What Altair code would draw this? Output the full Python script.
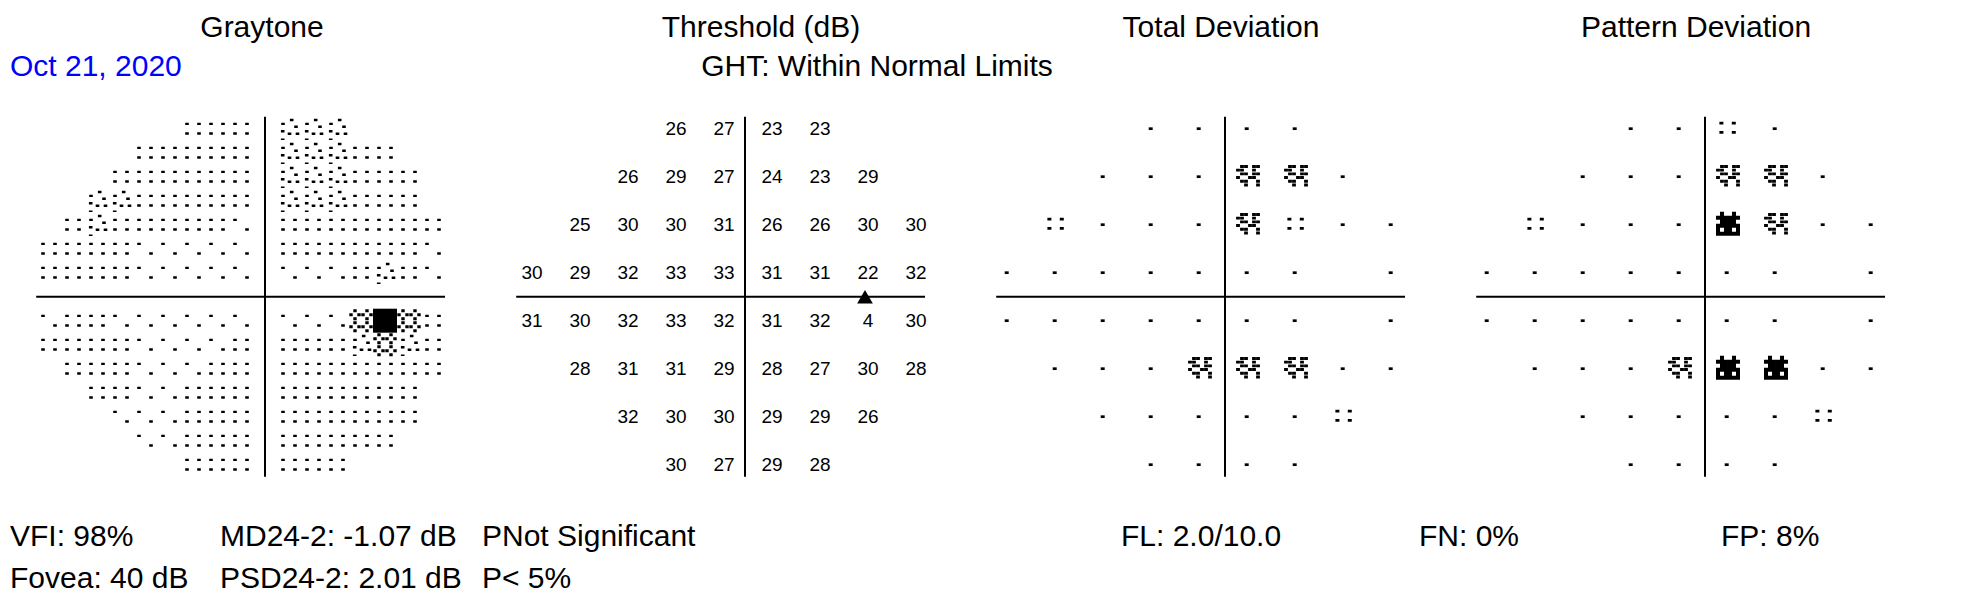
import altair as alt
import pandas as pd

# ---------------- data ----------------
ROW_Y = [21, 15, 9, 3, -3, -9, -15, -21]
ROW_X = {
    21: [-9, -3, 3, 9],
    15: [-15, -9, -3, 3, 9, 15],
    9: [-21, -15, -9, -3, 3, 9, 15, 21],
    3: [-27, -21, -15, -9, -3, 3, 9, 15, 21],
    -3: [-27, -21, -15, -9, -3, 3, 9, 15, 21],
    -9: [-21, -15, -9, -3, 3, 9, 15, 21],
    -15: [-15, -9, -3, 3, 9, 15],
    -21: [-9, -3, 3, 9],
}
THRESHOLD = {
    21: [26, 27, 23, 23],
    15: [26, 29, 27, 24, 23, 29],
    9: [25, 30, 30, 31, 26, 26, 30, 30],
    3: [30, 29, 32, 33, 33, 31, 31, 22, 32],
    -3: [31, 30, 32, 33, 32, 31, 32, 4, 30],
    -9: [28, 31, 31, 29, 28, 27, 30, 28],
    -15: [32, 30, 30, 29, 29, 26],
    -21: [30, 27, 29, 28],
}
# probability symbols: "." normal, ":" p<5%, "C" p<2%, "D" p<1%, "-" none
TOTAL_DEV = {21: "....", 15: "...CC.", 9: ":...C:..", 3: ".......-.",
             -3: ".......-.", -9: "...CCC..", -15: ".....:", -21: "...."}
PATTERN_DEV = {21: "..:.", 15: "...CC.", 9: ":...DC..", 3: ".......-.",
               -3: ".......-.", -9: "...CDD..", -15: ".....:", -21: "...."}
# graytone (3-degree blocks), a lightest ... e black
GRAY_Y = [21, 18, 15, 12, 9, 6, 3, -3, -6, -9, -12, -15, -18, -21]
GRAY_LEFT = {21: "bbb", 18: "bbbbb", 15: "bbbbbb", 12: "ccbbbbb", 9: "bcbbbbba",
             6: "bbbbaaaaa", 3: "bbbbaaaaa", -3: "abbaaaaaa", -6: "bbbbaaaab",
             -9: "bbbaaabb", -12: "bbaabbb", -15: "aaabbb", -18: "aabbb", -21: "bbb"}
GRAY_RIGHT = {21: "ccc", 18: "cccbb", 15: "cccbbb", 12: "cccbbb", 9: "bbbbbbb",
              6: "bbbbbba", 3: "aaabcba", -3: "aaadedb", -6: "bbbcdcb",
              -9: "bbbbbbb", -12: "bbbbbb", -15: "bbbbbb", -18: "bbbbb", -21: "bbb"}
BLIND_SPOT = [(15, 0)]
TITLES = ["Graytone", "Threshold (dB)", "Total Deviation", "Pattern Deviation"]

# ---------------- glyph shapes (unit = 12 px) ----------------
U = 12.0


def rects(lst):
    out = []
    for cx, cy, w, h in lst:
        out.append("M%.3f,%.3fh%.3fv%.3fh%.3fZ" % ((cx - w / 2) / U, (cy - h / 2) / U,
                                                  w / U, h / U, -w / U))
    return "".join(out)


def mask(rows, cw, ch, w, h, ox=0.0, oy=0.0):
    n_r, n_c = len(rows), len(rows[0])
    lst = []
    for r, row in enumerate(rows):
        for c, ch_ in enumerate(row):
            if ch_ == "X":
                cx = ox + (c - (n_c - 1) / 2) * cw
                cy = oy + (r - (n_r - 1) / 2) * ch
                lst.append((cx, cy, w, h))
    return rects(lst)


DW, DH = 3.6, 2.4
SHAPES = {
    "a": rects([(-6, -4.85, DW, DH), (6, 4.85, DW, DH)]),
    "b": rects([(-6, -4.85, DW, DH), (6, -4.85, DW, DH), (-6, 4.85, DW, DH), (6, 4.85, DW, DH)]),
    "c": rects([(2.7, -8.7, DW, DH), (7, -2, DW, DH), (-6.3, 2.5, DW, DH),
                (0.5, 5, DW, DH), (8.5, 5, DW, DH), (-6.3, 10.5, DW, 1.6), (-6, -4.85, DW, DH)]),
    "d": mask([".X..X.", "X.XX.X", ".X..X.", ".X..X.", "X.XX.X", ".X..X."], 4, 4, 3.4, 3.0),
    "e": rects([(0, 0, 24, 24)]),
    ".": rects([(-2.3, 0, 4, 2.7)]),
    ":": rects([(-7.6, -5.6, 4, 2.7), (4.8, -5.6, 4, 2.7), (-7.6, 3.7, 4, 2.7), (4.8, 3.7, 4, 2.7)]),
    "C": mask([".XX.XX", "XX..X.", ".XX.XX", "X..XX.", ".XX..X", "..X..X"], 4, 3.7, 3.8, 2.9, -1, -1),
    "D": mask([".X..X.", "XXXXXX", ".XXXX.", "XXXXXX", "X.XX.X", "XXXXXX"], 4, 4, 4, 4, -1, -1),
}
CODES = list(SHAPES.keys())

# ---------------- tables ----------------
gray = []
for y in GRAY_Y:
    left, right = GRAY_LEFT[y], GRAY_RIGHT[y]
    for i, c in enumerate(left):
        gray.append({"x": -3 * (len(left) - i), "y": y, "code": c, "panel": 0})
    for i, c in enumerate(right):
        gray.append({"x": 3 * (i + 1), "y": y, "code": c, "panel": 0})
for panel, table in ((2, TOTAL_DEV), (3, PATTERN_DEV)):
    for y in ROW_Y:
        for x, c in zip(ROW_X[y], table[y]):
            if c != "-":
                gray.append({"x": x, "y": y, "code": c, "panel": panel})
sym_df = pd.DataFrame(gray)

thr_df = pd.DataFrame([{"x": x, "y": y, "v": v, "panel": 1}
                       for y in ROW_Y for x, v in zip(ROW_X[y], THRESHOLD[y])])
bs_df = pd.DataFrame([{"x": x, "y": y, "panel": 1} for x, y in BLIND_SPOT])

H_EXT = (-28.6, 22.5)
V_EXT = (-22.5, 22.5)
line_rows = []
for p in range(4):
    line_rows.append({"panel": p, "x": H_EXT[0], "x2": H_EXT[1], "y": 0, "y2": 0})
    line_rows.append({"panel": p, "x": 0, "x2": 0, "y": V_EXT[0], "y2": V_EXT[1]})
line_df = pd.DataFrame(line_rows)

# ---------------- chart ----------------
W, H = 1952, 592
XS = alt.Scale(domain=[-32.125, -32.125 + W / 8], nice=False, zero=False)
YS = alt.Scale(domain=[-(H - 288.7) / 8, 288.7 / 8], nice=False, zero=False)
STEP = 60
FONT = "Liberation Sans"

xp = alt.X("xp:Q", scale=XS, axis=None)
yy = alt.Y("y:Q", scale=YS, axis=None)

lines = alt.Chart(line_df).transform_calculate(
    xp=f"datum.x + {STEP} * datum.panel", xp2=f"datum.x2 + {STEP} * datum.panel"
).mark_rule(color="black", strokeWidth=2).encode(
    x=xp, x2="xp2:Q", y=yy, y2="y2:Q")

syms = alt.Chart(sym_df).transform_calculate(
    xp=f"datum.x + {STEP} * datum.panel"
).mark_point(filled=True, color="black", opacity=1, strokeWidth=0, size=4 * U * U).encode(
    x=xp, y=yy,
    shape=alt.Shape("code:N", scale=alt.Scale(domain=CODES, range=[SHAPES[c] for c in CODES]),
                    legend=None))

nums = alt.Chart(thr_df).transform_calculate(
    xp=f"datum.x + {STEP} * datum.panel"
).mark_text(font=FONT, fontSize=19, dx=3, align="center", baseline="middle",
            color="black").encode(x=xp, y=yy, text="v:Q")

tri = alt.Chart(bs_df).transform_calculate(
    xp=f"datum.x + {STEP} * datum.panel"
).mark_point(shape="triangle-up", filled=True, color="black", opacity=1,
             strokeWidth=0, size=246).encode(x=xp, y=yy)


def label(text, x, y, align="left", color="black", size=30):
    return alt.Chart(pd.DataFrame({"t": [text]})).mark_text(
        font=FONT, fontSize=size, align=align, baseline="middle", color=color
    ).encode(x=alt.value(x), y=alt.value(y), text="t:N")


labels = [
    label(TITLES[0], 254, 19.6, "center"),
    label(TITLES[1], 753, 19.6, "center"),
    label(TITLES[2], 1213, 19.6, "center"),
    label(TITLES[3], 1688, 19.6, "center"),
    label("Oct 21, 2020", 2, 58.5, color="#0000ff"),
    label("GHT: Within Normal Limits", 869, 58.5, "center"),
    label("VFI: 98%", 2, 529),
    label("MD24-2: -1.07 dB", 212, 529),
    label("PNot Significant", 474, 529),
    label("Fovea: 40 dB", 2, 570.6),
    label("PSD24-2: 2.01 dB", 212, 570.6),
    label("P< 5%", 474, 570.6),
    label("FL: 2.0/10.0", 1113, 529),
    label("FN: 0%", 1411, 529),
    label("FP: 8%", 1713, 529),
]

chart = alt.layer(lines, syms, nums, tri, *labels).properties(
    width=W, height=H, padding=0, autosize=alt.AutoSizeParams(type="none")
).configure_view(strokeWidth=0)

chart.save("out.html", embed_options={"renderer": "svg", "actions": False})
